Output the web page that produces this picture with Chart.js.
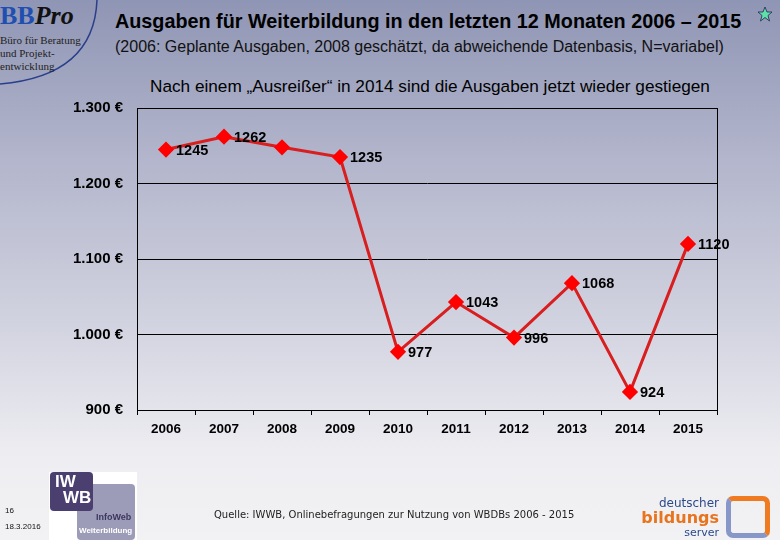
<!DOCTYPE html>
<html>
<head>
<meta charset="utf-8">
<script src="https://cdn.jsdelivr.net/npm/chart.js@4"></script>
<style>
  html, body { margin: 0; padding: 0; }
  body {
    width: 780px; height: 540px; position: relative; overflow: hidden;
    background: linear-gradient(to bottom, #8f95b4 0%, #b3b6cc 30%, #d2d3e0 60%, #eeeef2 85%, #f2f2f4 100%);
    font-family: "Liberation Sans", Arial, sans-serif;
  }
  .abs { position: absolute; white-space: nowrap; }
  #wrap { position: absolute; left: 0; top: 0; width: 780px; height: 540px; }
</style>
</head>
<body>
<svg class="abs" style="left:0;top:0" width="110" height="95">
  <path d="M 97 0 Q 94 76 0 84" fill="none" stroke="#2a3f8c" stroke-width="1.5"/>
</svg>
<div class="abs" style="left:0;top:3px;font-family:'Liberation Serif',serif;font-size:26px;font-weight:bold;line-height:26px">
  <span style="color:#1f4fb0">BB</span><span style="font-style:italic;color:#111">Pro</span>
</div>
<div class="abs" style="left:0;top:34px;font-family:'Liberation Serif',serif;font-size:11px;line-height:13px;color:#222">
  Büro für Beratung<br>und Projekt-<br>entwicklung
</div>

<div class="abs" style="left:115px;top:10px;font-size:19.8px;font-weight:bold;color:#000">Ausgaben für Weiterbildung in den letzten 12 Monaten 2006 – 2015</div>
<svg class="abs" style="left:757px;top:6px" width="16" height="16" viewBox="0 0 16 16">
  <polygon points="8,1 10,6 15,6 11,9.5 12.5,15 8,11.5 3.5,15 5,9.5 1,6 6,6" fill="#5fe0a8" stroke="#225" stroke-width="0.8"/>
</svg>
<div class="abs" style="left:115px;top:38px;font-size:16px;color:#111">(2006: Geplante Ausgaben, 2008 geschätzt, da abweichende Datenbasis, N=variabel)</div>
<div class="abs" style="left:150px;top:76px;font-size:17.2px;color:#000">Nach einem „Ausreißer“ in 2014 sind die Ausgaben jetzt wieder gestiegen</div>

<div id="wrap"><canvas id="c"></canvas></div>

<div class="abs" style="left:5px;top:506px;font-size:8px;color:#111">16</div>
<div class="abs" style="left:5px;top:522px;font-size:8px;color:#111">18.3.2016</div>

<div class="abs" style="left:49px;top:472px;width:88px;height:68px;background:#fff"></div>
<div class="abs" style="left:77px;top:484px;width:58px;height:56px;background:#9d9cb8;border-radius:4px"></div>
<div class="abs" style="left:50px;top:472px;width:43px;height:39px;background:#4a3f6e;border-radius:4px"></div>
<div class="abs" style="left:55px;top:474px;font-size:17px;font-weight:bold;color:#fff;line-height:16px">IW<br><span style="margin-left:8px">WB</span></div>
<div class="abs" style="left:96px;top:512px;font-size:9px;font-weight:bold;color:#3d3660">InfoWeb</div>
<div class="abs" style="left:79px;top:526px;font-size:8px;font-weight:bold;color:#fff">Weiterbildung</div>

<div class="abs" style="left:214px;top:509px;font-family:'DejaVu Sans',sans-serif;font-size:10px;color:#222">Quelle: IWWB, Onlinebefragungen zur Nutzung von WBDBs 2006 - 2015</div>

<div class="abs" style="right:61px;top:496px;text-align:right;font-family:'DejaVu Sans',sans-serif;line-height:14px">
  <div style="font-size:12px;color:#2c4a8a">deutscher</div>
  <div style="font-size:16px;font-weight:bold;color:#e8741e;line-height:16px">bildungs</div>
  <div style="font-size:11px;color:#2c4a8a">server</div>
</div>
<div class="abs" style="left:726px;top:496px;width:34px;height:32px;border:5px solid;border-color:#ef7a20 #ef7a20 #8797c8 #8797c8;border-radius:7px"></div>

<script>
const years = ["2006","2007","2008","2009","2010","2011","2012","2013","2014","2015"];
const spending = [1245, 1262, 1248, 1235, 977, 1043, 996, 1068, 924, 1120];
const showLabel = [true, true, false, true, true, true, true, true, true, true];
const yTicks = [900, 1000, 1100, 1200, 1300];

function euro(v) {
  if (v >= 1000) return Math.floor(v / 1000) + "." + String(v % 1000).padStart(3, "0") + " €";
  return v + " €";
}

// frame round the plot area and the value labels
const frame = {
  id: "frame",
  afterDatasetsDraw(chart) {
    const { ctx, chartArea: a } = chart;
    ctx.save();
    ctx.strokeStyle = "#000";
    ctx.lineWidth = 1;
    ctx.strokeRect(Math.round(a.left) + 0.5, Math.round(a.top) + 0.5,
      Math.round(a.right - a.left), Math.round(a.bottom - a.top));
    ctx.font = "bold 14.5px 'Liberation Sans', Arial, sans-serif";
    ctx.fillStyle = "#000";
    ctx.textBaseline = "middle";
    const meta = chart.getDatasetMeta(0);
    meta.data.forEach((pt, i) => {
      if (!showLabel[i]) return;
      ctx.fillText(String(spending[i]), pt.x + 10, pt.y + 1);
    });
    ctx.restore();
  }
};

new Chart(document.getElementById("c"), {
  type: "line",
  data: {
    labels: years,
    datasets: [{
      data: spending,
      borderColor: "#d81e1e",
      borderWidth: 3,
      pointStyle: "rectRot",
      pointRadius: 6,
      pointBackgroundColor: "#ff0000",
      pointBorderColor: "#ff0000",
      tension: 0
    }]
  },
  options: {
    responsive: true,
    maintainAspectRatio: false,
    animation: false,
    layout: { padding: { left: 57, right: 63, top: 108, bottom: 100 } },
    plugins: { legend: { display: false }, tooltip: { enabled: false } },
    scales: {
      x: {
        offset: true,
        grid: { display: true, drawOnChartArea: false, offset: true, tickLength: 5, color: "#000" },
        border: { color: "#000" },
        ticks: { color: "#000", padding: 6, font: { size: 13.5, weight: "bold", family: "'Liberation Sans', Arial" } },
        afterFit(s) { s.height = 30; }
      },
      y: {
        min: 900, max: 1300,
        afterBuildTicks(s) { s.ticks = yTicks.map(v => ({ value: v })); },
        grid: { color: "#000", drawTicks: false },
        border: { color: "#000" },
        ticks: { color: "#000", padding: 14, callback: v => euro(v),
          font: { size: 15, weight: "bold", family: "'Liberation Sans', Arial" } },
        afterFit(s) { s.width = 80; }
      }
    }
  },
  plugins: [frame]
});
</script>
</body>
</html>
